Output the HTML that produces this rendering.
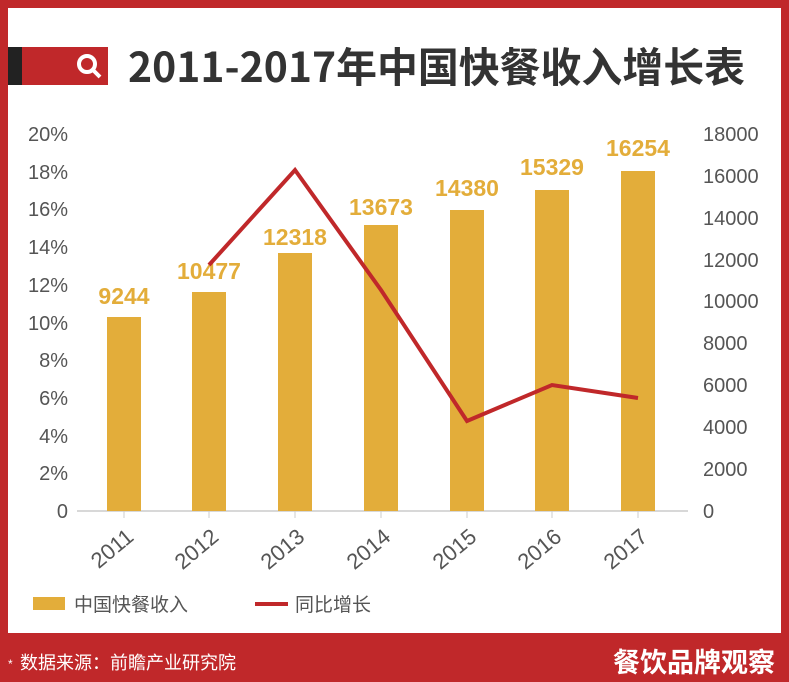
<!DOCTYPE html><html><head><meta charset="utf-8"><style>
body{margin:0;width:789px;height:682px;background:#c0282a;position:relative;overflow:hidden;font-family:"Liberation Sans","Noto Sans CJK SC",sans-serif}
.panel{position:absolute;left:8px;top:8px;width:773px;height:625px;background:#fff}
</style></head><body>
<div class="panel"></div>
<div style="position:absolute;left:8px;top:47px;width:100px;height:38px;background:#c0282a"></div>
<div style="position:absolute;left:8px;top:47px;width:14px;height:38px;background:#222"></div>
<svg style="position:absolute;left:0;top:0" width="789" height="682">
<circle cx="87" cy="64" r="8" fill="none" stroke="#fff" stroke-width="4"/>
<line x1="93" y1="70" x2="100" y2="77" stroke="#fff" stroke-width="4"/>
<text x="128" y="82" font-size="41" font-weight="bold" fill="#333" textLength="617" lengthAdjust="spacingAndGlyphs" font-family="Noto Sans CJK SC,sans-serif">2011-2017年中国快餐收入增长表</text>
<g font-size="20" fill="#555" text-anchor="end">
<text x="68" y="518">0</text><text x="68" y="480">2%</text><text x="68" y="443">4%</text><text x="68" y="405">6%</text><text x="68" y="367">8%</text><text x="68" y="330">10%</text><text x="68" y="292">12%</text><text x="68" y="254">14%</text><text x="68" y="216">16%</text><text x="68" y="179">18%</text><text x="68" y="141">20%</text>
</g>
<g font-size="20" fill="#555">
<text x="703" y="518">0</text><text x="703" y="476">2000</text><text x="703" y="434">4000</text><text x="703" y="392">6000</text><text x="703" y="350">8000</text><text x="703" y="308">10000</text><text x="703" y="267">12000</text><text x="703" y="225">14000</text><text x="703" y="183">16000</text><text x="703" y="141">18000</text>
</g>
<line x1="77" y1="511" x2="688" y2="511" stroke="#ccc" stroke-width="1.5"/>
<g fill="#e3ad3a">
<rect x="107" y="317" width="34" height="194"/>
<rect x="192" y="292" width="34" height="219"/>
<rect x="278" y="253" width="34" height="258"/>
<rect x="364" y="225" width="34" height="286"/>
<rect x="450" y="210" width="34" height="301"/>
<rect x="535" y="190" width="34" height="321"/>
<rect x="621" y="171" width="34" height="340"/>
</g>
<g stroke="#ccc"><line x1="124" y1="511" x2="124" y2="518"/><line x1="209" y1="511" x2="209" y2="518"/><line x1="295" y1="511" x2="295" y2="518"/><line x1="381" y1="511" x2="381" y2="518"/><line x1="467" y1="511" x2="467" y2="518"/><line x1="552" y1="511" x2="552" y2="518"/><line x1="638" y1="511" x2="638" y2="518"/></g>
<g font-size="23" font-weight="bold" fill="#e3ad3a" text-anchor="middle">
<text x="124" y="304">9244</text><text x="209" y="279">10477</text><text x="295" y="245">12318</text><text x="381" y="215">13673</text><text x="467" y="196">14380</text><text x="552" y="175">15329</text><text x="638" y="156">16254</text>
</g>
<polyline points="209,265 295,170 381,290 467,421 552,385 638,398" fill="none" stroke="#c0282a" stroke-width="4"/>
<g font-size="22" fill="#555" text-anchor="end">
<text transform="translate(135,539) rotate(-40)">2011</text>
<text transform="translate(220,539) rotate(-40)">2012</text>
<text transform="translate(306,539) rotate(-40)">2013</text>
<text transform="translate(392,539) rotate(-40)">2014</text>
<text transform="translate(478,539) rotate(-40)">2015</text>
<text transform="translate(563,539) rotate(-40)">2016</text>
<text transform="translate(649,539) rotate(-40)">2017</text>
</g>
<rect x="33" y="597" width="32" height="13" fill="#e3ad3a"/>
<text x="74" y="611" font-size="19" fill="#555">中国快餐收入</text>
<line x1="255" y1="604" x2="288" y2="604" stroke="#c0282a" stroke-width="4"/>
<text x="295" y="611" font-size="19" fill="#555">同比增长</text>
<text x="8" y="668" font-size="12" fill="#fff">*</text>
<text x="20" y="669" font-size="18" fill="#fff">数据来源：前瞻产业研究院</text>
<text x="775" y="672" font-size="27" font-weight="bold" fill="#fff" text-anchor="end">餐饮品牌观察</text>
</svg>
</body></html>
